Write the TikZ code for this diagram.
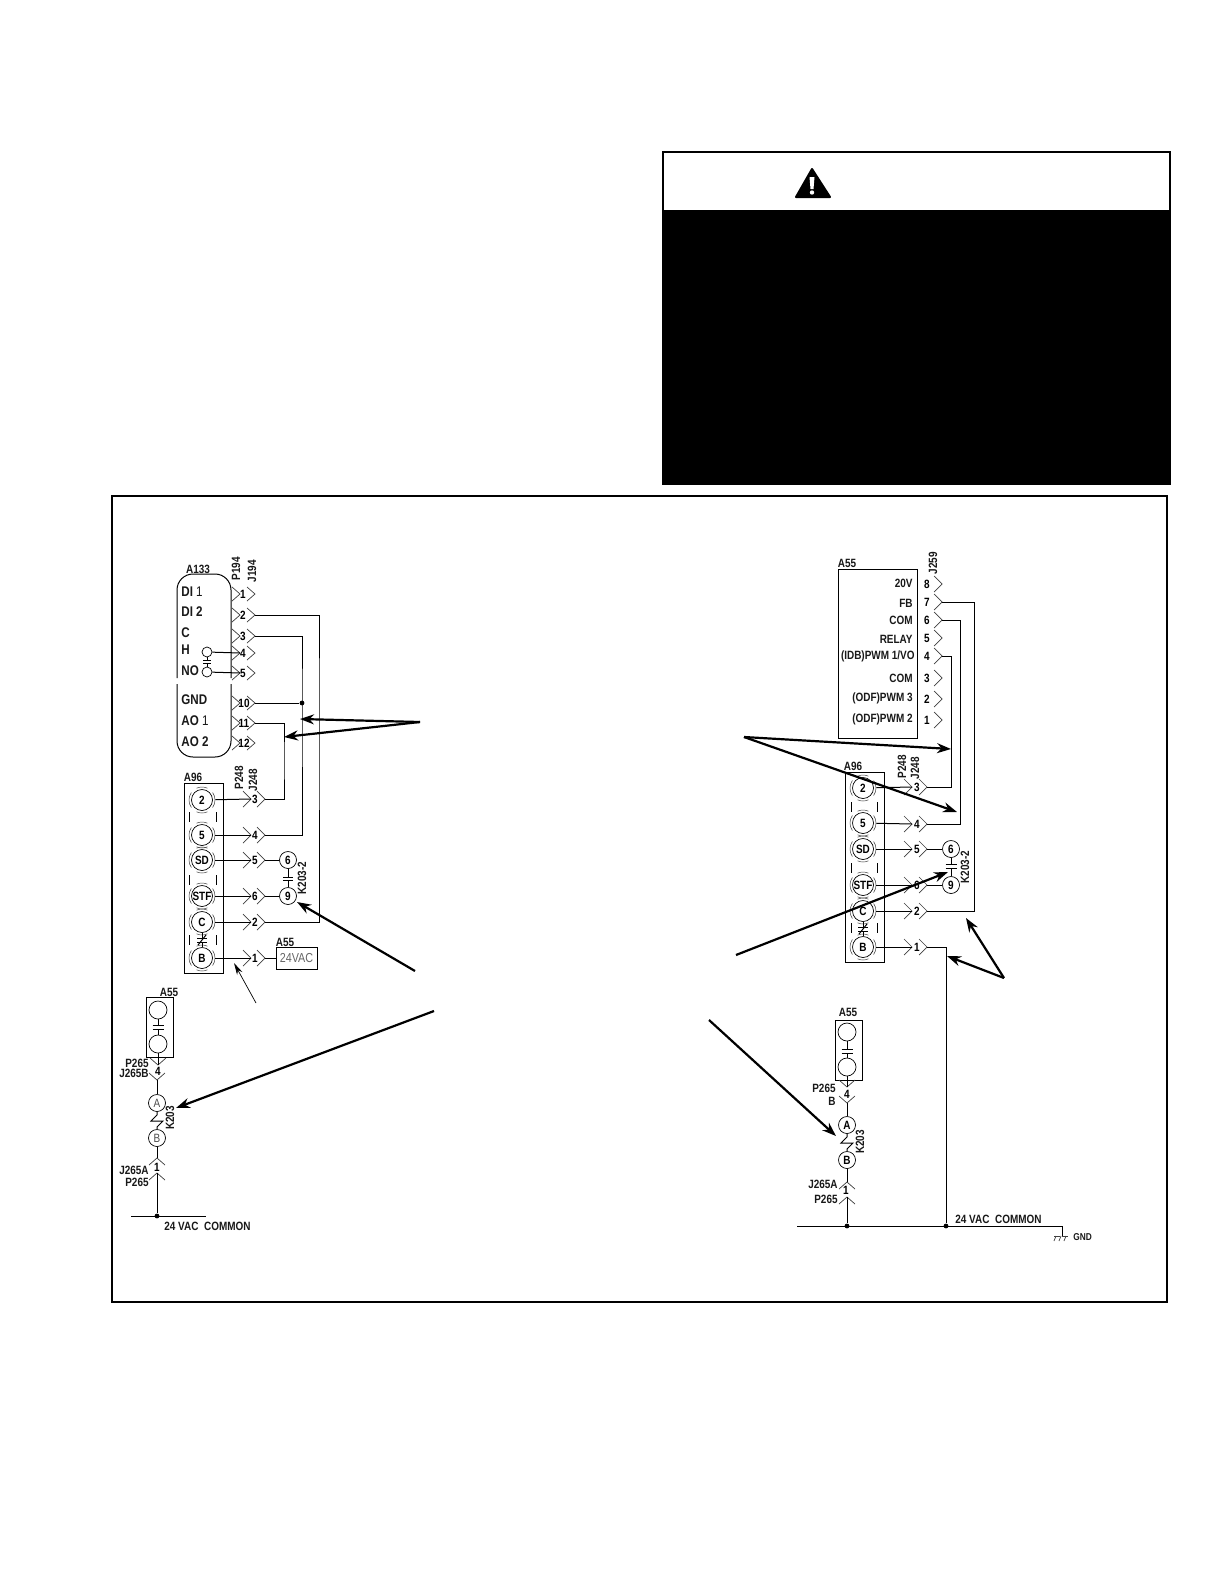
\documentclass[tikz,border=0pt]{standalone}
\usepackage{fontspec}
\setmainfont[FakeStretch=0.83]{Liberation Sans}
\usetikzlibrary{arrows.meta}
\tikzset{
  wire/.style={line width=0.5pt,draw=black},
  chev/.style={line width=0.35pt,draw=black!75},
  big/.style={line width=1.1pt,draw=black,-{Stealth[length=7pt,width=5pt]}},
  lab/.style={font=\fontsize{6}{7}\selectfont\bfseries,inner sep=0pt,text=black!90},
  big lab/.style={font=\fontsize{7}{8}\selectfont\bfseries,inner sep=0pt,anchor=west,text=black!90},
  num/.style={font=\fontsize{6}{7}\selectfont\bfseries,inner sep=0pt},
  term/.style={circle,draw=black,line width=0.35pt,fill=white,minimum size=21*0.5pt,inner sep=0pt,font=\fontsize{6}{7}\selectfont\bfseries},
  small term/.style={circle,draw=black,line width=0.35pt,fill=white,minimum size=17*0.5pt,inner sep=0pt,font=\fontsize{6}{7}\selectfont\bfseries},
  hollow/.style={circle,draw=black,line width=0.35pt,fill=white,minimum size=18*0.5pt,inner sep=0pt},
  tiny hollow/.style={circle,draw=black,line width=0.35pt,fill=white,minimum size=10*0.5pt,inner sep=0pt},
  outer/.style={circle,minimum size=26*0.5pt,inner sep=0pt},
  dot/.style={circle,fill=black,minimum size=2.4pt,inner sep=0pt},
  box/.style={draw=black,line width=0.45pt,fill=white},
}
% right-pointing pin: name, tip1, tip2, y, number, number x, half height
\newcommand\pinR[7]{%
  \coordinate (#1-in) at (#2,#4);\coordinate (#1-out) at (#3,#4);
  \draw[chev] (#2-8,#4-#7) -- (#1-in) -- (#2-8,#4+#7);
  \draw[chev] (#3-8,#4-#7) -- (#1-out) -- (#3-8,#4+#7);
  \node[num] (#1-n) at (#6,#4) {#5};}
% down / up pins: name, x, tip y, sign(+1 down tip, -1 up tip)
\newcommand\pinV[4]{%
  \coordinate (#1) at (#2,#3);
  \draw[chev] (#2-8,#3-#4*7) -- (#1) -- (#2+8,#3-#4*7);}
% A96 terminal: name, x, y, text
\newcommand\termA[4]{%
  \node[term] (#1-i) at (#2,#3) {#4};
  \node[outer] (#1) at (#2,#3) {};
  \draw[chev,line width=0.25pt] (#2,#3) ++(35:13) arc[start angle=35,end angle=-35,radius=13];
  \draw[chev,line width=0.25pt] (#2,#3) ++(145:13) arc[start angle=145,end angle=215,radius=13];
  \draw[chev,line width=0.25pt] (#2,#3) ++(65:13) arc[start angle=65,end angle=115,radius=13];
  \draw[chev,line width=0.25pt] (#2,#3) ++(-65:13) arc[start angle=-65,end angle=-115,radius=13];}
% contact: top node, bottom node, x, y1, y2, half width
\newcommand\contact[6]{%
  \draw[wire] (#1) -- (#3,#4);
  \draw[wire] (#3-#6,#4) -- (#3+#6,#4);
  \draw[wire] (#3-#6,#5) -- (#3+#6,#5);
  \draw[wire] (#3,#5) -- (#2);}
% coil: top node, bottom node, x, y (top of zigzag)
\newcommand\coil[4]{%
  \draw[wire] (#1) -- (#3,#4) -- (#3-6,#4+6) -- (#3+6,#4+6) -- (#3,#4+12) -- (#2);}
\begin{document}
\begin{tikzpicture}[x=0.5pt,y=-0.5pt]
\useasboundingbox (0,0) rectangle (1224,1584);
\fill[white] (0,0) rectangle (1224,1584);
% warning box
\draw[line width=1pt,fill=white] (663,152) rectangle (1170,484);
\fill[black] (662,210) rectangle (1170,484);
\draw[line width=1pt,fill=black,line join=round] (812,169) -- (796,197) -- (830,197) -- cycle;
\fill[white] (809.5,177) -- (814.5,177) -- (813.5,189) -- (810.5,189) -- cycle;
\fill[white] (812,192.5) circle (2.2);
% main frame
\draw[line width=1.3pt] (112,496) rectangle (1167,1302);

%%%%% LEFT PANEL
\draw[wire,rounded corners=8pt] (177,678) -- (177,574) -- (231,574) -- (231,678);
\draw[wire,rounded corners=8pt] (177,684) -- (177,757) -- (231,757) -- (231,684);
\node[lab] (a133) at (198,569) {A133};
\node[lab,rotate=90] (p194) at (236,569) {P194};
\node[lab,rotate=90] (j194) at (252,571) {J194};
\node[big lab] (di1) at (181,592) {DI \textmd{1}};
\node[big lab] (di2) at (181,612) {DI 2};
\node[big lab] (cc) at (181,633) {C};
\node[big lab] (hh) at (181,650) {H};
\node[big lab] (no) at (181,671) {NO};
\node[big lab] (gnd) at (181,700) {GND};
\node[big lab] (ao1) at (181,721) {AO \textmd{1}};
\node[big lab] (ao2) at (181,742) {AO 2};
\pinR{l1}{240}{255}{594}{1}{243}{7}
\pinR{l2}{240}{255}{615}{2}{243}{7}
\pinR{l3}{240}{255}{636}{3}{243}{7}
\pinR{l4}{240}{255}{653}{4}{243}{7}
\pinR{l5}{240}{255}{673}{5}{243}{7}
\pinR{l10}{240}{255}{703}{10}{244}{7}
\pinR{l11}{240}{255}{723}{11}{244}{7}
\pinR{l12}{240}{255}{743}{12}{244}{7}
\node[tiny hollow] (hc) at (207,652) {};
\node[tiny hollow] (nc) at (207,672) {};
\contact{hc}{nc}{207}{660}{663}{4}
\draw[wire] (hc) -- (l4-in);
\draw[wire] (nc) -- (l5-in);
% A96 left
\draw[box] (184,783) rectangle (223,973);
\node[lab] (a96l) at (193,777) {A96};
\foreach \yy in {812,875,935}{\draw[wire] (189,\yy) -- (189,\yy+10);\draw[wire] (216,\yy) -- (216,\yy+10);}
\termA{t2}{202}{800}{2}
\termA{t5}{202}{835}{5}
\termA{tsd}{202}{860}{SD}
\termA{tstf}{202}{896}{STF}
\termA{tc}{202}{922}{C}
\termA{tb}{202}{958}{B}
\contact{tc-i}{tb-i}{202}{938}{942}{5}
\draw[wire] (198,945) -- (206,935);
\node[lab,rotate=90] (p248l) at (239,778) {P248};
\node[lab,rotate=90] (j248l) at (253,780) {J248};
\pinR{r3}{251}{265}{799}{3}{255}{8}
\pinR{r4}{251}{265}{835}{4}{255}{8}
\pinR{r5}{251}{265}{860}{5}{255}{8}
\pinR{r6}{251}{265}{896}{6}{255}{8}
\pinR{r2}{251}{265}{922}{2}{255}{8}
\pinR{r1}{251}{265}{958}{1}{255}{8}
\draw[wire] (t2) -- (r3-in);
\draw[wire] (t5) -- (r4-in);
\draw[wire] (tsd) -- (r5-in);
\draw[wire] (tstf) -- (r6-in);
\draw[wire] (tc) -- (r2-in);
\draw[wire] (tb) -- (r1-in);
\node[small term] (k6) at (288,860) {6};
\node[small term] (k9) at (288,896) {9};
\contact{k6}{k9}{288}{877}{880}{5}
\node[lab,rotate=90] (k2l) at (302,878) {K203-2};
\draw[wire] (r5-out) -- (k6);
\draw[wire] (r6-out) -- (k9);
\node[draw=black,line width=0.4pt,minimum width=20.5pt,minimum height=11pt,inner sep=0pt,font=\fontsize{6.5}{7}\selectfont,text=black!60] (vac) at (296.5,958) {24VAC};
\node[lab] (a55t) at (285,942) {A55};
\draw[wire] (r1-out) -- (vac);
% bus wires left
\coordinate (bus2) at (319,700);
\coordinate (bus3) at (302,700);
\coordinate (bus11) at (284,760);
\draw[wire] (l2-out) -| (bus2) |- (r2-out);
\draw[wire] (l3-out) -| (bus3) |- (r4-out);
\draw[wire] (l11-out) -| (bus11) |- (r3-out);
\node[dot] (dl) at (302,703) {};
\draw[wire] (l10-out) -- (dl);
% left arrows
\coordinate (srcA) at (420,722);
\coordinate (hA1) at (300,719);
\coordinate (hA2) at (284,737);
\draw[big] (srcA) -- (hA1);
\draw[big] (srcA) -- (hA2);
\coordinate (srcB) at (415,971);
\coordinate (hB) at (297,902);
\draw[big] (srcB) -- (hB);
\coordinate (srcC) at (256,1003);
\coordinate (hC) at (234,963);
\draw[line width=0.35pt,-{Stealth[length=6pt,width=3pt]}] (srcC) -- (hC);
\coordinate (srcD) at (434,1011);
\coordinate (hD) at (176,1108);
\draw[big] (srcD) -- (hD);
% lower left
\draw[box] (146,997) rectangle (173,1057);
\node[lab] (a55ll) at (169,992) {A55};
\node[hollow] (q1) at (158,1010) {};
\node[hollow] (q2) at (158,1044) {};
\contact{q1}{q2}{158}{1025}{1029}{5.5}
\pinV{v1}{158}{1065}{1}
\pinV{v2}{157}{1080}{1}
\draw[wire] (q2) -- (v1);
\node[num] (n4l) at (158,1071) {4};
\node[lab,anchor=east] (pl1) at (149,1063) {P265};
\node[lab,anchor=east] (pl2) at (149,1073) {J265B};
\node[small term,font=\fontsize{6}{7}\selectfont,text=black!70] (ca) at (157,1103) {A};
\node[small term,font=\fontsize{6}{7}\selectfont,text=black!70] (cb) at (157,1138) {B};
\draw[wire] (v2) -- (ca);
\coil{ca}{cb}{157}{1115}
\node[lab,rotate=90] (k203l) at (170,1118) {K203};
\pinV{u1}{157}{1158}{-1}
\pinV{u2}{157}{1173}{-1}
\draw[wire] (cb) -- (u1);
\node[num] (n1l) at (157,1167) {1};
\node[lab,anchor=east] (jl1) at (149,1170) {J265A};
\node[lab,anchor=east] (jl2) at (149,1182) {P265};
\coordinate (hl1) at (131,1216);
\coordinate (hl2) at (206,1216);
\draw[wire] (hl1) -- (hl2);
\node[dot] (dl2) at (157,1216) {};
\draw[wire] (u2) -- (dl2);
\node[lab,anchor=west] (vacl) at (164,1226) {24 VAC\ \ COMMON};

%%%%% RIGHT PANEL
\draw[box] (838,569) rectangle (917,738);
\node[lab] (a55r) at (847,563) {A55};
\node[lab,rotate=90] (j259) at (933,563) {J259};
\node[lab,anchor=east] (s8) at (913,583) {20V};
\node[lab,anchor=east] (s7) at (913,603) {FB};
\node[lab,anchor=east] (s6) at (913,620) {COM};
\node[lab,anchor=east] (s5) at (913,639) {RELAY};
\node[lab,anchor=east] (s4) at (915,656) {(IDB)PWM 1/VO};
\node[lab,anchor=east] (s3) at (913,678) {COM};
\node[lab,anchor=east] (s2) at (913,698) {(ODF)PWM 3};
\node[lab,anchor=east] (s1) at (913,719) {(ODF)PWM 2};
\foreach \nm/\yy in {8/584,7/602,6/620,5/638,4/656,3/678,2/699,1/720}{
  \coordinate (w\nm) at (942,\yy);
  \draw[chev] (934,\yy-8) -- (w\nm) -- (934,\yy+8);
  \node[num] (wn\nm) at (927,\yy) {\nm};}
\draw[box] (845,772) rectangle (884,962);
\node[lab] (a96r) at (853,766) {A96};
\foreach \yy in {802,863,923}{\draw[wire] (851,\yy) -- (851,\yy+10);\draw[wire] (877,\yy) -- (877,\yy+10);}
\termA{x2}{863}{788}{2}
\termA{x5}{863}{823}{5}
\termA{xsd}{863}{849}{SD}
\termA{xstf}{863}{885}{STF}
\termA{xc}{863}{911}{C}
\termA{xb}{863}{947}{B}
\contact{xc-i}{xb-i}{863}{927}{931}{5}
\draw[wire] (859,934) -- (867,924);
\node[lab,rotate=90] (p248r) at (902,767) {P248};
\node[lab,rotate=90] (j248r) at (915,768) {J248};
\pinR{y3}{912}{927}{787}{3}{917}{8}
\pinR{y4}{912}{927}{824}{4}{917}{8}
\pinR{y5}{912}{927}{849}{5}{917}{8}
\pinR{y6}{912}{927}{885}{6}{917}{8}
\pinR{y2}{912}{927}{911}{2}{917}{8}
\pinR{y1}{912}{927}{947}{1}{917}{8}
\draw[wire] (x2) -- (y3-in);
\draw[wire] (x5) -- (y4-in);
\draw[wire] (xsd) -- (y5-in);
\draw[wire] (xstf) -- (y6-in);
\draw[wire] (xc) -- (y2-in);
\draw[wire] (xb) -- (y1-in);
\node[small term] (m6) at (951,849) {6};
\node[small term] (m9) at (951,885) {9};
\contact{m6}{m9}{951}{864}{868}{5.5}
\node[lab,rotate=90] (k2r) at (965,867) {K203-2};
\draw[wire] (y5-out) -- (m6);
\draw[wire] (y6-out) -- (m9);
\coordinate (busr7) at (974,750);
\coordinate (busr6) at (960,750);
\coordinate (busr4) at (951,750);
\draw[wire] (w7) -| (busr7) |- (y2-out);
\draw[wire] (w6) -| (busr6) |- (y4-out);
\draw[wire] (w4) -| (busr4) |- (y3-out);
\coordinate (hr1) at (797,1226);
\coordinate (hr2) at (1062,1226);
\draw[wire] (hr1) -- (hr2);
\node[dot] (dr1) at (847,1226) {};
\node[dot] (dr2) at (946,1226) {};
\draw[wire] (y1-out) -| (dr2);
\coordinate (gt) at (1062,1236);
\draw[wire] (hr2) -- (gt);
\draw[chev,dash pattern=on 3pt off 1pt] (1054,1236) -- (1070,1236);
\foreach \gx in {1056,1061,1066}{\draw[chev] (\gx,1236) -- (\gx-2,1241);}
\node[lab,anchor=west,font=\fontsize{5}{6}\selectfont\bfseries] (gndr) at (1073,1237) {GND};
\node[lab,anchor=west] (vacr) at (955,1219) {24 VAC\ \ COMMON};
% lower right
\draw[box] (835,1020) rectangle (862,1080);
\node[lab] (a55lr) at (848,1012) {A55};
\node[hollow] (z1) at (847,1032) {};
\node[hollow] (z2) at (847,1067) {};
\contact{z1}{z2}{847}{1049}{1053}{5.5}
\pinV{vr1}{847}{1087}{1}
\pinV{vr2}{847}{1103}{1}
\draw[wire] (z2) -- (vr1);
\node[num] (n4r) at (847,1094) {4};
\node[lab,anchor=east] (pr1) at (836,1088) {P265};
\node[lab,anchor=east] (pr2) at (836,1101) {B};
\node[small term] (da) at (847,1125) {A};
\node[small term] (db) at (847,1160) {B};
\draw[wire] (vr2) -- (da);
\coil{da}{db}{847}{1137}
\node[lab,rotate=90] (k203r) at (860,1142) {K203};
\pinV{ur1}{847}{1182}{-1}
\pinV{ur2}{847}{1197}{-1}
\draw[wire] (db) -- (ur1);
\node[num] (n1r) at (846,1190) {1};
\node[lab,anchor=east] (jr1) at (838,1184) {J265A};
\node[lab,anchor=east] (jr2) at (838,1199) {P265};
\draw[wire] (ur2) -- (dr1);
% right arrows
\coordinate (srcE) at (744,737);
\coordinate (hE1) at (951,749);
\coordinate (hE2) at (957,812);
\draw[big] (srcE) -- (hE1);
\draw[big] (srcE) -- (hE2);
\coordinate (srcF) at (736,955);
\coordinate (hF) at (948,872);
\draw[big] (srcF) -- (hF);
\coordinate (srcG) at (709,1020);
\coordinate (hG) at (836,1136);
\draw[big] (srcG) -- (hG);
\coordinate (srcH) at (1004,978);
\coordinate (hH1) at (966,918);
\coordinate (hH2) at (947,956);
\draw[big] (srcH) -- (hH1);
\draw[big] (srcH) -- (hH2);
\end{tikzpicture}
\end{document}
